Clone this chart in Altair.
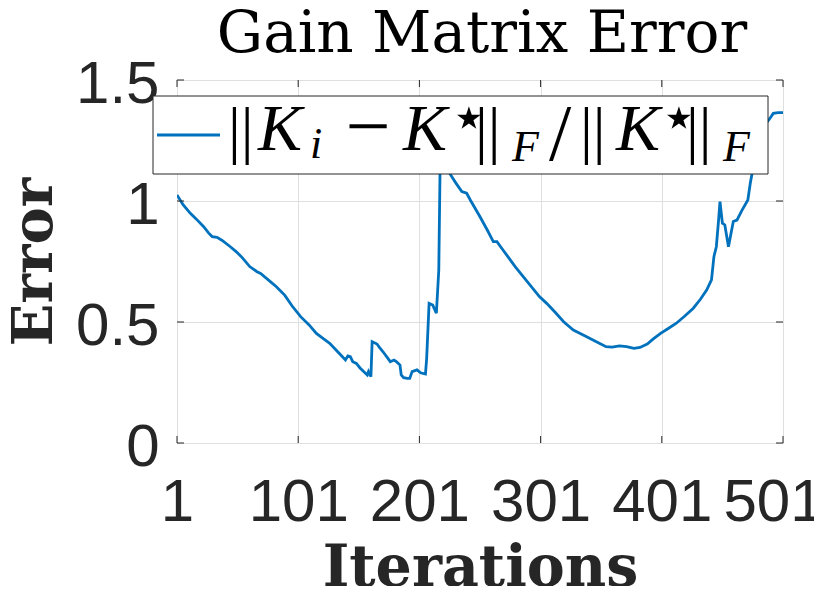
import altair as alt
import pandas as pd

# ---- data ----
iterations = [1, 6, 12, 17, 23, 27, 30, 34, 38, 45, 50, 55, 61, 67, 70, 78, 83, 90, 96, 103,
              110, 116, 122, 127, 133, 140, 142, 144, 146, 149, 152, 155, 158, 159, 161, 162,
              166, 168, 171, 175, 177, 180, 182, 185, 186, 188, 191, 193, 195, 199, 202, 206,
              207, 209, 212, 215, 217, 218, 219, 222, 226, 231, 236, 240, 243, 251, 257, 262,
              265, 268, 274, 280, 290, 300, 306, 313, 320, 328, 339, 347, 355, 360, 366, 372,
              378, 383, 389, 394, 400, 406, 413, 420, 427, 433, 438, 442, 444, 446, 448, 449,
              451, 453, 456, 460, 463, 467, 472, 474, 476, 482, 487, 490, 493, 497, 501]
errors = [1.025, 0.985, 0.949, 0.925, 0.894, 0.868, 0.853, 0.850, 0.838, 0.811, 0.790, 0.765,
          0.729, 0.708, 0.701, 0.667, 0.646, 0.610, 0.566, 0.522, 0.488, 0.453, 0.430, 0.412,
          0.380, 0.343, 0.360, 0.357, 0.336, 0.329, 0.310, 0.295, 0.281, 0.295, 0.274, 0.419,
          0.409, 0.395, 0.377, 0.350, 0.336, 0.343, 0.336, 0.322, 0.281, 0.270, 0.267, 0.267,
          0.295, 0.302, 0.290, 0.285, 0.350, 0.577, 0.570, 0.536, 0.715, 1.114, 1.200, 1.160,
          1.114, 1.075, 1.039, 1.032, 1.004, 0.935, 0.880, 0.832, 0.832, 0.811, 0.770, 0.729,
          0.667, 0.605, 0.577, 0.540, 0.501, 0.467, 0.439, 0.418, 0.398, 0.396, 0.401, 0.398,
          0.391, 0.395, 0.409, 0.430, 0.453, 0.472, 0.495, 0.525, 0.557, 0.595, 0.632, 0.674,
          0.770, 0.811, 0.930, 0.997, 0.908, 0.901, 0.811, 0.915, 0.921, 0.960, 1.004, 1.073,
          1.128, 1.230, 1.321, 1.340, 1.362, 1.365, 1.365]
x_ticks = [1, 101, 201, 301, 401, 501]
y_ticks = [0, 0.5, 1, 1.5]

TITLE = "Gain Matrix Error"
X_TITLE = "Iterations"
Y_TITLE = "Error"

W, H = 606, 363
LINE_COLOR = "#0072BD"
AX = "#262626"

df = pd.DataFrame({"it": iterations, "err": errors})
xt = pd.DataFrame({"t": x_ticks})
yt = pd.DataFrame({"t": y_ticks})

xscale = alt.Scale(domain=[1, 501], nice=False, zero=False)
yscale = alt.Scale(domain=[0, 1.5], nice=False, zero=True)

xaxis = alt.Axis(values=x_ticks, format="d", ticks=False, domain=False, grid=True,
                 gridColor="#dfdfdf", gridWidth=1, labelFont="Liberation Sans",
                 labelFontSize=60, labelColor=AX, labelPadding=30, labelFlush=False,
                 labelOverlap=False,
                 labelOffset={"condition": {"test": "datum.value == 501", "value": -10}, "value": 0},
                 title=X_TITLE, titleFont="DejaVu Serif",
                 titleFontWeight="bold", titleFontSize=57, titleColor=AX,
                 titleX=W / 2, titleY=142, titleBaseline="alphabetic", titleAlign="center")
yaxis = alt.Axis(values=y_ticks, labelExpr="datum.value", ticks=False, domain=False, grid=True,
                 gridColor="#dfdfdf", gridWidth=1, labelFont="Liberation Sans",
                 labelFontSize=60, labelColor=AX, labelPadding=18, labelOffset=4,
                 labelFlush=False, labelOverlap=False, title=Y_TITLE, titleFont="DejaVu Serif",
                 titleFontWeight="bold", titleFontSize=56, titleColor=AX, titleAngle=270,
                 titleX=-126, titleY=H / 2, titleBaseline="alphabetic", titleAlign="center")

line = alt.Chart(df).mark_line(color=LINE_COLOR, strokeWidth=2.8, clip=True).encode(
    x=alt.X("it:Q", scale=xscale, axis=xaxis),
    y=alt.Y("err:Q", scale=yscale, axis=yaxis),
)

TL = 7
xt_bot = alt.Chart(xt).mark_rule(color=AX, strokeWidth=1).encode(
    x=alt.X("t:Q", scale=xscale), y=alt.value(H - TL), y2=alt.value(H))
xt_top = alt.Chart(xt).mark_rule(color=AX, strokeWidth=1).encode(
    x=alt.X("t:Q", scale=xscale), y=alt.value(0), y2=alt.value(TL))
yt_l = alt.Chart(yt).mark_rule(color=AX, strokeWidth=1).encode(
    y=alt.Y("t:Q", scale=yscale), x=alt.value(0), x2=alt.value(TL))
yt_r = alt.Chart(yt).mark_rule(color=AX, strokeWidth=1).encode(
    y=alt.Y("t:Q", scale=yscale), x=alt.value(W - TL), x2=alt.value(W))

one = pd.DataFrame({"a": [0]})
OX, OY = 177, 80  # plot origin on the page, used to place title/legend pieces

title = alt.Chart(one).mark_text(
    text=TITLE, font="DejaVu Serif", fontSize=58, align="center", baseline="alphabetic",
    color="black").encode(x=alt.value(482 - OX), y=alt.value(52 - OY))

leg_box = alt.Chart(one).mark_rect(fill="white", stroke=AX, strokeWidth=1).encode(
    x=alt.value(153 - OX), x2=alt.value(768 - OX), y=alt.value(96 - OY), y2=alt.value(174 - OY))
leg_line = alt.Chart(one).mark_rule(color=LINE_COLOR, strokeWidth=2.8).encode(
    x=alt.value(157 - OX), x2=alt.value(220 - OX), y=alt.value(135 - OY))

SERIF = "Liberation Serif"
# (text, page x, page baseline y, size, style, align)
pieces = [
    ("||", 228, 151, 64, "normal", "left"),
    ("K", 258, 150, 66, "italic", "left"),
    ("i", 310, 158, 44, "italic", "left"),
    ("\u2212", 368, 153, 80, "normal", "center"),
    ("K", 403, 150, 66, "italic", "left"),
    ("||", 475, 151, 64, "normal", "left"),
    ("F", 512, 161, 44, "italic", "left"),
    ("/", 560, 160, 80, "normal", "center"),
    ("||", 580, 151, 64, "normal", "left"),
    ("K", 616, 150, 66, "italic", "left"),
    ("||", 686, 151, 64, "normal", "left"),
    ("F", 723, 161, 44, "italic", "left"),
]
leg_text = []
for t, px, py, sz, st, al in pieces:
    leg_text.append(alt.Chart(one).mark_text(
        text=t, font=SERIF, fontSize=sz, fontStyle=st, align=al, baseline="alphabetic",
        color="black").encode(x=alt.value(px - OX), y=alt.value(py - OY)))
for cx in (469, 679):
    leg_text.append(alt.Chart(one).mark_text(
        text="\u22c6", font="DejaVu Sans", fontSize=62, align="center", baseline="middle",
        color="black").encode(x=alt.value(cx - OX), y=alt.value(119 - OY)))

chart = alt.layer(line, xt_bot, xt_top, yt_l, yt_r, leg_box, leg_line, title,
                  *leg_text).properties(
    width=W, height=H,
    padding={"left": 169, "top": 72, "right": 31, "bottom": 143},
    autosize=alt.AutoSizeParams(type="none"),
).configure_view(stroke=AX, strokeWidth=1).configure(background="white")

chart.save("out.html", embed_options={"renderer": "svg", "actions": False})
